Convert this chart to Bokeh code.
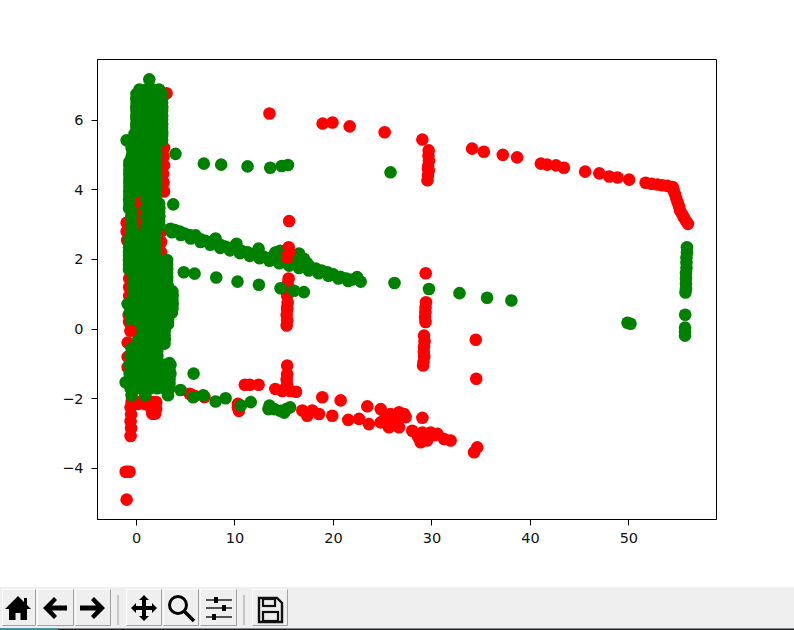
from bokeh.plotting import figure
from bokeh.layouts import column
from bokeh.models import FixedTicker, Range1d, Div
from bokeh.embed import file_html
from bokeh.resources import INLINE

x_ticks = [0, 10, 20, 30, 40, 50]
x_labels = ["0", "10", "20", "30", "40", "50"]
y_ticks = [-4, -2, 0, 2, 4, 6]
y_labels = ["\u22124", "\u22122", "0", "2", "4", "6"]

# red points, far field
red_arc_x = [13.5, 18.9, 19.9, 21.65, 25.2, 29.03, 34.08, 35.27, 37.2, 38.65, 41.06, 41.7, 42.6, 43.4, 45.56, 47.0,
             48.0, 48.85, 50.03, 51.7, 52.3, 52.9, 53.4, 53.9, 54.44, 54.55, 54.67, 54.8, 54.95, 55.1, 55.2, 55.4, 55.6, 55.8, 56.0]
red_arc_y = [6.19, 5.9, 5.93, 5.82, 5.65, 5.44, 5.18, 5.09, 5.0, 4.93, 4.75, 4.72, 4.7, 4.63, 4.52, 4.47,
             4.38, 4.35, 4.29, 4.2, 4.17, 4.15, 4.13, 4.11, 4.08, 3.98, 3.88, 3.76, 3.64, 3.52, 3.4, 3.3, 3.2, 3.1, 3.02]
red_col29_x = [29.67, 29.65, 29.7, 29.62, 29.68, 29.6, 29.55, 29.6, 29.37, 29.4, 29.35, 29.33, 29.3, 29.35, 29.2, 29.25, 29.2, 29.18, 29.22, 29.15, 29.1]
red_col29_y = [5.13, 4.98, 4.83, 4.69, 4.55, 4.41, 4.27, 4.6, 1.6, 0.77, 0.62, 0.48, 0.34, 0.2, -0.19, -0.35, -0.5, -0.65, -0.8, -0.95, -1.05]
red_col15_x = [15.5, 15.45, 15.35, 15.45, 15.3, 15.35, 15.3, 15.25, 15.3, 15.25, 15.3]
red_col15_y = [3.1, 1.45, 1.3, 1.16, 0.95, 0.75, 0.55, 0.4, 0.25, 0.1, 0.62]
red_low_x = [34.45, 34.5, 5.4, 5.9, 6.9, 10.3, 10.3, 10.4, 11.0, 11.5, 12.4, 15.3, 15.3, 15.25, 15.3, 15.2, 14.1, 14.8, 15.6, 16.2,
             16.84, 17.34, 17.85, 18.53, 19.88, 18.87, 20.73, 21.5, 22.6, 23.6, 23.44, 24.8, 24.8, 25.64, 26.66, 25.8, 26.66, 27.17,
             27.34, 25.3, 26.3, 28.0, 29.03, 28.86, 29.03, 29.88, 30.56, 31.23, 31.9, 29.5, 34.28, 34.6, 30.2, 28.6, 29.4]
red_low_y = [-0.31, -1.43, -1.86, -1.92, -1.95, -2.15, -2.25, -2.35, -1.6, -1.6, -1.6, -1.05, -1.3, -1.45, -1.6, -1.68, -1.72, -1.78, -1.78, -1.8,
             -2.34, -2.49, -2.34, -2.44, -2.49, -1.96, -2.05, -2.61, -2.58, -2.73, -2.22, -2.3, -2.68, -2.82, -2.82, -2.44, -2.39, -2.44,
             -2.53, -2.53, -2.58, -2.92, -2.55, -3.25, -2.97, -2.97, -3.01, -3.16, -3.2, -3.2, -3.54, -3.4, -3.05, -3.1, -3.08]
# red points hidden behind or sticking out of the dense green column
red_near_x = [-1.1, -0.9, -0.7, -1.0, -0.6, -0.55, -0.6, -0.55, -0.6, -0.5, -0.45, 0.1, 0.6, 1.1, 1.7, 1.75, 1.8, 1.75, 1.9, 1.7, 2.0,
              1.5, 1.6, 2.0, 1.9, 0.2, 0.8, 1.3, -0.3,
              3.05, 2.8, 2.75, 2.8, 2.7, 2.75, 2.8, 0.1, 0.1, 0.1, 0.1, 0.1, -1.0, -1.0, -0.95, 2.5, 2.5, 2.5, -0.74, -0.74, -0.74, -0.74,
              -0.9, -0.9, -0.9, -0.8, -0.75, -0.7]
red_near_y = [-4.1, -4.1, -4.1, -4.9, -3.07, -2.85, -2.65, -2.45, -2.25, -2.1, -2.0, -2.1, -2.1, -2.05, -2.1, -2.25, -2.4, -2.3, -2.43, -2.43, -2.1,
              -2.3, -2.43, -2.3, -2.2, -2.15, -2.15, -2.15, -2.15,
              6.77, 5.2, 4.95, 4.7, 4.45, 4.2, 3.95, 3.75, 3.5, 3.25, 3.0, 2.8, 3.05, 2.8, 2.55, 2.8, 2.5, 2.2, 1.7, 1.45, 1.2, 0.95,
              -0.39, -0.8, -1.1, 0.4, 0.2, -1.5]
red_front_x = [-0.62, 15.45, 15.5, 15.35, 15.3]
red_front_y = [-0.05, 2.35, 2.22, 2.11, 2.05]

# green points, dense column, one row per y
green_rows = [
    (7.17, [1.3]),
    (6.88, [0.3, 1.0, 1.7, 2.3]),
    (6.62, [0.0, 0.7, 1.4, 2.1, 2.6]),
    (6.36, [0.0, 0.7, 1.4, 2.1, 2.6]),
    (6.1, [0.0, 0.7, 1.4, 2.1, 2.6]),
    (5.85, [0.0, 0.7, 1.4, 2.1, 2.6]),
    (5.6, [-0.2, 0.5, 1.2, 1.9, 2.6]),
    (5.42, [-1.0, -0.3, 0.4, 1.1, 1.8, 2.5]),
    (5.2, [-0.5, 0.2, 0.9, 1.6, 1.9]),
    (4.95, [-0.5, 0.2, 0.9, 1.6, 1.9]),
    (4.72, [-0.7, 0.0, 0.7, 1.4, 1.9]),
    (4.47, [-0.7, 0.0, 0.7, 1.4, 1.9]),
    (4.22, [-0.7, 0.0, 0.7, 1.4, 1.9]),
    (3.97, [-0.7, 0.0, 0.7, 1.4, 1.9]),
    (3.72, [-0.75, 1.0, 1.6, 1.9]),
    (3.47, [-0.75, 1.0, 1.6, 2.3]),
    (3.22, [-0.5, 1.0, 1.6, 2.3]),
    (2.97, [-0.5, 1.0, 1.6, 2.3]),
    (2.72, [-0.5, 0.1, 0.8, 1.4, 1.9]),
    (2.47, [-0.75, 0.0, 0.7, 1.4, 1.9]),
    (2.22, [-0.75, 0.0, 0.7, 1.4, 1.9]),
    (1.97, [-0.75, 0.0, 0.7, 1.4, 2.1, 3.0]),
    (1.72, [-0.75, 0.0, 0.7, 1.4, 2.1, 2.8, 3.1]),
    (1.47, [-0.33, 0.4, 1.1, 1.8, 2.5, 3.1]),
    (1.22, [-0.33, 0.4, 1.1, 1.8, 2.5, 3.2]),
    (0.97, [-0.33, 0.4, 1.1, 1.8, 2.5, 3.2, 3.65]),
    (0.72, [-0.9, -0.2, 0.5, 1.2, 1.9, 2.6, 3.3, 3.65]),
    (0.47, [-0.7, 0.0, 0.7, 1.4, 2.1, 2.8, 3.6]),
    (0.22, [-0.5, 0.2, 0.9, 1.6, 2.3, 3.0]),
    (-0.03, [0.2, 0.9, 1.6, 2.3, 2.85]),
    (-0.28, [0.2, 0.9, 1.6, 2.3, 2.85]),
    (-0.53, [0.4, 1.1, 1.8, 2.1]),
    (-0.78, [-0.6, 0.1, 0.8, 1.5, 2.1]),
    (-1.03, [-0.7, 0.0, 0.7, 1.4, 2.1, 2.8, 3.45]),
    (-1.28, [-0.7, 0.0, 0.7, 1.4, 2.1, 2.8, 3.45]),
    (-1.53, [-1.1, -0.4, 0.3, 1.0, 1.7, 2.4, 3.1]),
    (-1.7, [-0.6, 0.1, 0.8, 1.4, 2.1, 2.8, 3.3]),
    (-1.9, [-0.5, 0.9, 3.2]),
]
# edge of the dense column: (x, several y)
green_edges = [
    (0.0, [6.75, 6.62, 6.5, 6.38, 6.26, 6.14, 6.02, 5.9, 5.78, 5.66]),
    (-0.4, [5.3, 5.18, 5.06, 4.94]),
    (-0.72, [4.8, 4.68, 4.56, 4.44, 4.32, 4.2, 4.08, 3.96, 3.84, 3.72, 3.6, 3.48]),
    (-0.5, [3.38, 3.26, 3.14, 3.02, 2.9, 2.78, 2.66]),
    (-0.75, [2.58, 2.46, 2.34, 2.22, 2.1, 1.98, 1.86]),
    (-0.33, [1.74, 1.62, 1.5, 1.38, 1.26, 1.14, 1.02]),
    (-0.5, [0.6, 0.48, 0.36, 0.24, 0.12]),
    (-0.5, [-0.55, -0.7, -0.85, -1.0, -1.15, -1.3]),
    (2.6, [6.75, 6.62, 6.5, 6.38, 6.26, 6.14, 6.02, 5.9, 5.78, 5.66, 5.54, 5.42]),
    (2.0, [5.3, 5.18, 5.06, 4.94, 4.82, 4.7, 4.58, 4.46, 4.34, 4.22, 4.1, 3.98, 3.86]),
    (2.3, [3.6, 3.48, 3.36, 3.24, 3.12, 3.0]),
    (1.85, [2.88, 2.76, 2.64, 2.52, 2.4, 2.28, 2.16, 2.06]),
    (3.1, [1.98, 1.86, 1.74, 1.62, 1.5, 1.38, 1.26, 1.14]),
    (3.65, [1.08, 0.96, 0.84, 0.72, 0.6]),
    (3.2, [0.5, 0.38, 0.26, 0.14]),
    (2.85, [0.06, -0.06, -0.18, -0.3, -0.42]),
    (2.1, [-0.52, -0.64, -0.76, -0.88]),
    (3.35, [-0.98, -1.1, -1.22, -1.34, -1.46, -1.58, -1.7]),
]
# green points, branches
green_arc_x = [3.45, 3.9, 4.4, 4.9, 5.4, 6.0, 6.5, 7.0, 7.5, 8.03, 8.5, 9.0, 9.6, 10.16, 10.7, 11.3, 11.8, 12.4, 12.9, 13.4, 14.1, 14.6,
               15.1, 15.6, 16.1, 16.5, 17.0, 17.5, 18.2, 18.8, 19.4, 20.0, 20.7, 21.3, 21.9, 22.4, 22.77, 14.1, 14.6, 15.1, 15.6, 16.1, 16.6, 17.0,
               3.6, 4.5, 5.5, 6.5, 7.5, 8.5, 9.5, 10.5, 11.5, 12.5, 13.5, 14.5, 15.5, 16.5, 17.5, 18.5, 19.5, 20.5, 21.5, 14.5, 15.0, 16.0, 16.3, 17.3]
green_arc_y = [2.88, 2.84, 2.8, 2.74, 2.7, 2.69, 2.58, 2.53, 2.5, 2.6, 2.42, 2.37, 2.33, 2.45, 2.24, 2.2, 2.15, 2.31, 2.08, 2.03, 2.2, 1.96,
               1.93, 1.9, 1.87, 2.17, 2.02, 1.82, 1.74, 1.68, 1.63, 1.57, 1.5, 1.45, 1.42, 1.49, 1.36, 2.17, 2.25, 2.2, 2.1, 2.1, 2.0, 1.9,
               2.78, 2.7, 2.6, 2.5, 2.42, 2.33, 2.26, 2.18, 2.1, 2.03, 1.96, 1.89, 1.82, 1.75, 1.68, 1.6, 1.53, 1.45, 1.38, 2.05, 2.1, 2.05, 2.0, 1.9]
green_mid_x = [4.8, 5.9, 8.1, 10.26, 12.43, 14.63, 16.0, 17.0, 26.2, 29.7, 32.8, 35.6, 38.07]
green_mid_y = [1.63, 1.59, 1.48, 1.36, 1.27, 1.17, 1.1, 1.06, 1.32, 1.15, 1.03, 0.9, 0.82]
green_up_x = [3.96, 6.84, 8.6, 11.28, 13.58, 14.74, 15.38, 3.73, 25.8]
green_up_y = [5.03, 4.75, 4.72, 4.67, 4.63, 4.68, 4.71, 3.58, 4.5]
green_low_x = [4.47, 5.76, 6.78, 8.03, 9.05, 5.8, 10.6, 11.6, 13.4, 13.5, 14.0, 14.6, 15.0, 15.2, 15.6]
green_low_y = [-1.75, -1.96, -1.9, -2.08, -1.99, -1.28, -2.2, -2.1, -2.3, -2.2, -2.3, -2.35, -2.4, -2.3, -2.25]
green_far_x = [49.86, 50.17, 55.9, 55.9, 55.85, 55.85, 55.85, 55.8, 55.8, 55.8, 55.8, 55.75, 55.72, 55.7, 55.7, 55.7]
green_far_y = [0.18, 0.15, 2.35, 2.2, 2.05, 1.9, 1.75, 1.6, 1.45, 1.3, 1.15, 1.05, 0.41, 0.04, -0.08, -0.19]

green_mass_x = [x for y, xs in green_rows for x in xs] + [x for x, ys in green_edges for y in ys]
green_mass_y = [y for y, xs in green_rows for x in xs] + [y for x, ys in green_edges for y in ys]

p = figure(width=794, height=587, output_backend="svg", toolbar_location=None,
           x_range=Range1d(-3.96, 58.9), y_range=Range1d(-5.47, 7.74),
           min_border_left=97, min_border_right=78, min_border_top=59, min_border_bottom=68,
           background_fill_color="white", border_fill_color="white")
p.grid.visible = False
p.outline_line_color = "black"
p.outline_line_width = 1
for ax, ticks, labels in ((p.xaxis[0], x_ticks, x_labels), (p.yaxis[0], y_ticks, y_labels)):
    ax.ticker = FixedTicker(ticks=ticks)
    ax.major_label_overrides = dict(zip(ticks, labels))
    ax.major_label_text_font = "DejaVu Sans"
    ax.major_label_text_font_size = "14.5px"
    ax.major_label_text_color = "#111111"
    ax.major_tick_in = 0
    ax.major_tick_out = 6
    ax.minor_tick_in = 0
    ax.minor_tick_out = 0
    ax.axis_line_color = "black"
    ax.major_tick_line_color = "black"
p.xaxis[0].major_label_standoff = 7
p.yaxis[0].major_label_standoff = 8

RED = "#ff0000"
GREEN = "#008000"
SIZE = 12.6
for xs, ys in ((red_arc_x, red_arc_y), (red_col29_x, red_col29_y), (red_col15_x, red_col15_y),
               (red_low_x, red_low_y), (red_near_x, red_near_y)):
    p.scatter(xs, ys, size=SIZE, color=RED, line_width=0)
for xs, ys in ((green_mass_x, green_mass_y), (green_arc_x, green_arc_y), (green_mid_x, green_mid_y),
               (green_up_x, green_up_y), (green_low_x, green_low_y), (green_far_x, green_far_y)):
    p.scatter(xs, ys, size=SIZE, color=GREEN, line_width=0)
p.scatter(red_front_x, red_front_y, size=SIZE, color=RED, line_width=0)


def button(x, w, icon):
    return (f'<g transform="translate({x},2)">'
            f'<rect x="0.5" y="0.5" width="{w}" height="36" fill="#efefef" stroke="#fcfcfc"/>'
            f'<path d="M{w+0.5} 0.5V36.5H0.5" fill="none" stroke="#a0a0a0"/>{icon}</g>')


home = '<path d="M16 7L3 20h4v11h6.5v-7h5v7H25V20h4l-4-4V9h-3v4z" fill="#000"/>'
back = '<path d="M17 8l-11 11 11 11 3-3-5-5.5h15v-5H15l5-5.5z" fill="#000"/>'
fwd = '<path d="M19 8l11 11-11 11-3-3 5-5.5H5v-5h16l-5-5.5z" fill="#000"/>'
move = '<path d="M18 6l5 5h-3v6h6v-3l5 5-5 5v-3h-6v6h3l-5 5-5-5h3v-6H10v3l-5-5 5-5v3h6v-6h-3z" fill="#000"/>'
zoom = '<circle cx="15" cy="16" r="8.5" fill="none" stroke="#000" stroke-width="3"/><path d="M21 22l10 10" stroke="#000" stroke-width="3.5"/>'
sliders = ('<path d="M6 11h26M6 19h26M6 28h26" stroke="#222" stroke-width="1.6"/>'
           '<rect x="14" y="8" width="4" height="6" fill="#000"/><rect x="22" y="16" width="4" height="6" fill="#000"/>'
           '<rect x="12" y="25" width="4" height="6" fill="#000"/>')
save = ('<path d="M7 9h18l5 5v19H7z" fill="none" stroke="#111" stroke-width="2.4"/>'
        '<rect x="11" y="10" width="12" height="7" fill="none" stroke="#111" stroke-width="2.2"/>'
        '<rect x="11" y="23" width="15" height="9" fill="none" stroke="#111" stroke-width="2.2"/>')

bar = ('<svg xmlns="http://www.w3.org/2000/svg" width="794" height="43" style="display:block">'
       '<rect width="794" height="43" fill="#efefef"/>'
       + button(2, 33, home) + button(37, 36, back) + button(75, 35, fwd)
       + '<path d="M118 8V38" stroke="#b8b8b8" stroke-width="1.5"/>'
       + button(126, 35, move) + button(163, 35, zoom) + button(200, 36, sliders)
       + '<path d="M244 8V38" stroke="#b8b8b8" stroke-width="1.5"/>'
       + button(252, 35, save)
       + '<rect y="41.5" width="794" height="1.5" fill="#1e2028"/><rect y="41.5" width="58" height="1.5" fill="#1f9aa5"/>'
       + '</svg>')
toolbar = Div(text=bar, width=794, height=43, margin=(0, 0, 0, 0))

page = column(p, toolbar, spacing=0)
open("out.html", "w").write(file_html(page, INLINE))
